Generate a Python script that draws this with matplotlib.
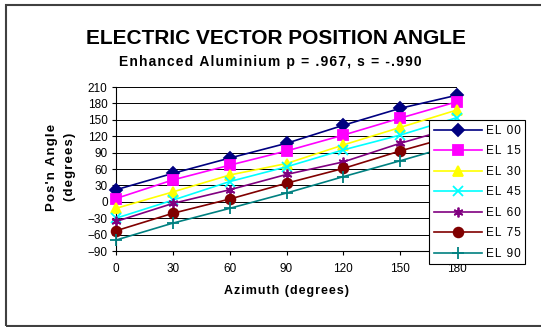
import numpy as np
import matplotlib
matplotlib.use("Agg")
import matplotlib.pyplot as plt
from matplotlib.patches import Rectangle

plt.rcParams['font.family'] = ['Liberation Sans', 'DejaVu Sans']

azimuth = [0, 30, 60, 90, 120, 150, 180]
labels = ["EL 00", "EL 15", "EL 30", "EL 45", "EL 60", "EL 75", "EL 90"]
el00 = [22, 52, 80, 107, 140, 171, 195]
el15 = [6, 40, 67, 93, 122, 153, 183]
el30 = [-12, 18, 49, 70, 104, 136, 168]
el45 = [-30, 3, 37, 64, 95, 122, 154]
el60 = [-36, -3, 22, 50, 73, 107, 137]
el75 = [-53, -21, 5, 34, 61, 93, 122]
el90 = [-70, -39, -12, 16, 46, 75, 105]
yticks = list(range(-90, 211, 30))

series = [el00, el15, el30, el45, el60, el75, el90]
colors = ['#000080', '#FF00FF', '#FFFF00', '#00FFFF', '#800080', '#800000', '#008080']
markers = ['D', 's', '^', 'x', (6, 2, 0), 'o', '+']
msizes = [6, 7, 7, 7, 7, 7, 8]


def spaced(txt, gap='\u200a'):
    # crude letter spacing, like the old Excel chart fonts
    return gap.join(txt)


W, H = 541, 327
fig = plt.figure(figsize=(W / 100, H / 100), dpi=100)
ax = fig.add_axes([116 / W, 1 - 251 / H, (457 - 116) / W, (251 - 87) / H])

for i in range(len(series)):
    ax.plot(azimuth, series[i], color=colors[i], marker=markers[i], markersize=msizes[i],
            markeredgewidth=1.3, linewidth=1.2, label=spaced(labels[i]), clip_on=False,
            zorder=3 + i)

ax.set_xlim(0, 180)
ax.set_ylim(-90, 210)
ax.set_xticks(azimuth)
ax.set_yticks(yticks)
ax.yaxis.grid(True, color='black', linewidth=0.7)
ax.set_axisbelow(True)
for s in ['top', 'right']:
    ax.spines[s].set_visible(False)
ax.spines['left'].set_linewidth(0.8)
ax.spines['bottom'].set_linewidth(0.8)
ax.tick_params(axis='both', labelsize=8.5, length=3, width=0.8, pad=3, colors='black')
ax.tick_params(axis='x', pad=5.5)

ax.set_xlabel(spaced("Azimuth (degrees)"), fontsize=9, fontweight='bold', labelpad=7)
fig.text(52 / W, 1 - 167 / H, spaced("Pos'n Angle"), rotation=90, ha='center', va='center',
         fontsize=9.5, fontweight='bold')
fig.text(70 / W, 1 - 167 / H, spaced("(degrees)"), rotation=90, ha='center', va='center',
         fontsize=9.5, fontweight='bold')

fig.text(276 / W, 1 - 38 / H, "ELECTRIC VECTOR POSITION ANGLE", ha='center', va='center',
         fontsize=15, fontweight='bold')
fig.text(270 / W, 1 - 62 / H, spaced("Enhanced Aluminium p = .967, s = -.990"), ha='center',
         va='center', fontsize=10, fontweight='bold')

leg = fig.legend(loc='upper left', bbox_to_anchor=(429 / W, 1 - 120 / H), fontsize=8.5,
                 frameon=True, fancybox=False, edgecolor='black', framealpha=1,
                 handlelength=4.1, labelspacing=0.72, borderpad=0.4, handletextpad=0.3,
                 borderaxespad=0)
leg.get_frame().set_linewidth(0.8)

fig.patches.append(Rectangle((6 / W, 0.002), 1.2, 1 - 5 / H - 0.002, transform=fig.transFigure,
                             fill=False, edgecolor='#404040', linewidth=1.5))

fig.savefig("out.png", dpi=100)
